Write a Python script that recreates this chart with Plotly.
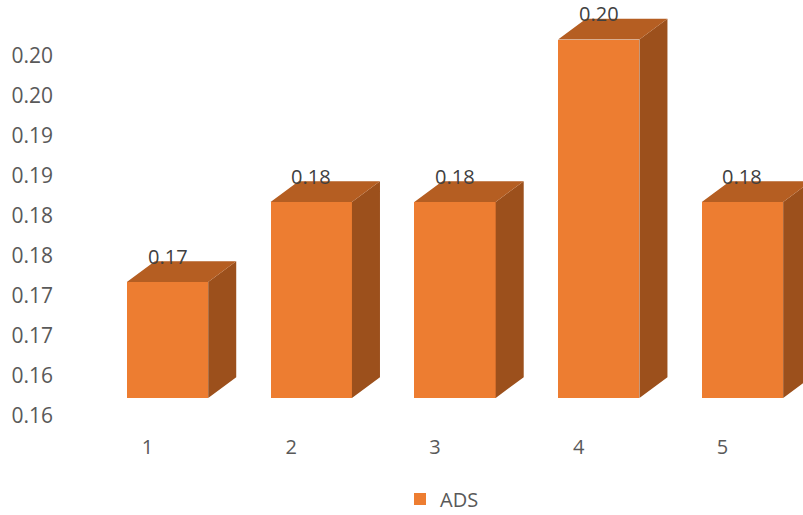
import plotly.graph_objects as go

categories = ["1", "2", "3", "4", "5"]
values = [0.1695, 0.1795, 0.1795, 0.1998, 0.1795]
label_text = ["0.17", "0.18", "0.18", "0.20", "0.18"]
y_tick_values = [0.155, 0.16, 0.165, 0.17, 0.175, 0.18, 0.185, 0.19, 0.195, 0.2]
y_tick_labels = ["0.16", "0.16", "0.17", "0.17", "0.18", "0.18", "0.19", "0.19", "0.20", "0.20"]

BASE = 0.155
FRONT = "#ED7D31"
TOP = "#B55E22"
SIDE = "#9C501C"
TXT = "#595959"
FONT = "Open Sans"

xs = list(range(1, len(categories) + 1))
w = 0.283      # half width of front face (x units)
dx = 0.195     # depth offset in x units
dy = 0.0026    # depth offset in y units
label_shift = 0.00225  # y-axis label offset relative to floor
xlab_shift = 0.14

side_x, side_y, top_x, top_y = [], [], [], []
for x, v in zip(xs, values):
    side_x += [x + w, x + w + dx, x + w + dx, x + w, x + w, None]
    side_y += [BASE, BASE + dy, v + dy, v, BASE, None]
    top_x += [x - w, x - w + dx, x + w + dx, x + w, x - w, None]
    top_y += [v, v + dy, v + dy, v, v, None]

fig = go.Figure()
fig.add_trace(go.Scatter(x=side_x, y=side_y, mode="lines", fill="toself",
                         fillcolor=SIDE, line=dict(width=0, color=SIDE),
                         showlegend=False, hoverinfo="skip"))
fig.add_trace(go.Scatter(x=top_x, y=top_y, mode="lines", fill="toself",
                         fillcolor=TOP, line=dict(width=0, color=TOP),
                         showlegend=False, hoverinfo="skip"))
fig.add_trace(go.Bar(x=xs, y=[v - BASE for v in values], base=BASE,
                     width=2 * w, marker=dict(color=FRONT, line=dict(width=0)),
                     name="ADS", showlegend=True))

for x, v, t in zip(xs, values, label_text):
    fig.add_annotation(x=x, y=v, text=t, showarrow=False, yshift=26,
                       borderpad=0,
                       font=dict(family=FONT, size=20, color="#404040"))

fig.update_layout(
    width=803, height=515,
    margin=dict(l=60, r=0, t=0, b=85),
    plot_bgcolor="white", paper_bgcolor="white",
    bargap=0,
    font=dict(family=FONT, size=20, color=TXT),
    xaxis=dict(range=[0.252, 5.421], tickvals=[x - xlab_shift for x in xs],
               ticktext=categories, showgrid=False, zeroline=False,
               showline=False, ticks="", ticklabelstandoff=3,
               tickfont=dict(size=20)),
    yaxis=dict(range=[0.151, 0.20475], tickvals=[t - label_shift for t in y_tick_values],
               ticktext=y_tick_labels, showgrid=False, zeroline=False,
               showline=False, ticks="", ticklabelstandoff=6,
               tickfont=dict(size=21)),
    legend=dict(orientation="h", x=400 / 803, xanchor="left", xref="container",
                y=1 - 499 / 515, yanchor="middle", yref="container",
                font=dict(family=FONT, size=20, color=TXT), itemwidth=30),
)
fig.write_html("out.html")
